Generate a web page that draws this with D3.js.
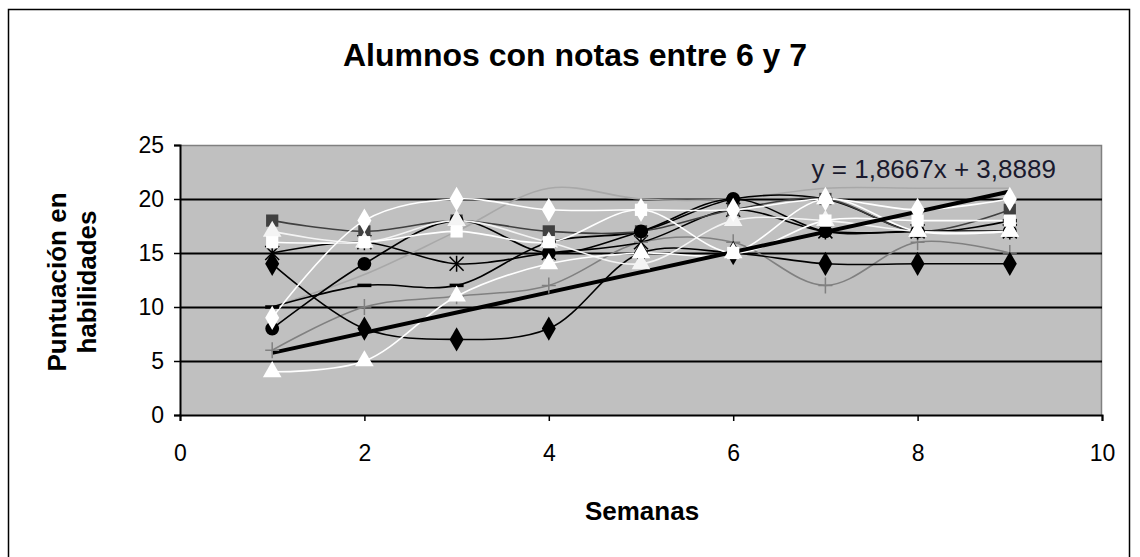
<!DOCTYPE html>
<html>
<head>
<meta charset="utf-8">
<script src="https://cdn.jsdelivr.net/npm/d3@7"></script>
<style>
  body { margin: 0; background: #fff; }
  text { font-family: Arial, "Liberation Sans", sans-serif; }
</style>
</head>
<body>
<div id="chart"></div>
<script>
// weeks and scores
var semanas = [1, 2, 3, 4, 5, 6, 7, 8, 9];
var xTicks = [0, 2, 4, 6, 8, 10];
var yTicks = [0, 5, 10, 15, 20, 25];

var serieDiamanteNegro = [14, 8, 7, 8, 15, 15, 14, 14, 14];
var serieCuadradoOscuro = [18, 17, 18, 17, 17, 19, 20, 17, 19];
var serieTrianguloBlanco = [4, 5, 11, 14, 15, 15, 20, 17, 17];
var serieDiamanteBlanco = [9, 18, 20, 19, 19, 19, 20, 19, 20];
var serieCuadradoBlanco = [16, 16, 17, 16, 19, 15, 18, 18, 18];
var serieCirculoNegro = [8, 14, 18, 15, 17, 20, 17, 17, 17];
var serieCruzGris = [6, 10, 11, 12, 16, 16, 12, 16, 15];
var serieAsterisco = [15, 16, 14, 15, 16, 19, 17, 17, 17];
var serieGrisClaro = [10, 13, 17, 21, 20, 20, 21, 21, 21];
var serieGuion = [10, 12, 12, 16, 17, 20, 20, 17, 18];
var serieTriangulo2 = [17, 16, 18, 16, 14, 18, 18, 17, 17];

// linear trend as printed on the chart
var pendiente = 1.8667, intercepto = 3.8889;
var ecuacion = "y = 1,8667x + 3,8889";

var series = [
  { v: serieGrisClaro, color: "#a8a8a8", m: "none" },
  { v: serieCruzGris, color: "#808080", m: "plus" },
  { v: serieGuion, color: "#000", m: "dash" },
  { v: serieAsterisco, color: "#000", m: "star" },
  { v: serieCuadradoOscuro, color: "#404040", m: "square" },
  { v: serieCirculoNegro, color: "#000", m: "circle" },
  { v: serieDiamanteNegro, color: "#000", m: "diamond" },
  { v: serieTriangulo2, color: "#f4f4f4", m: "triangle" },
  { v: serieCuadradoBlanco, color: "#fff", m: "square" },
  { v: serieDiamanteBlanco, color: "#fff", m: "diamond" },
  { v: serieTrianguloBlanco, color: "#fff", m: "triangle" }
];

var W = 1140, H = 557;
var margin = { top: 145, right: 38, bottom: 142, left: 180 };
var width = W - margin.left - margin.right,
    height = H - margin.top - margin.bottom;

var svg = d3.select("#chart").append("svg")
    .attr("width", W).attr("height", H);

// chart frame
svg.append("rect")
    .attr("x", 8.5).attr("y", 9.5)
    .attr("width", 1121).attr("height", 580)
    .attr("fill", "#fff").attr("stroke", "#000").attr("stroke-width", 1.5);

svg.append("text")
    .attr("x", 575).attr("y", 66)
    .attr("text-anchor", "middle")
    .attr("font-size", 32).attr("font-weight", "bold")
    .text("Alumnos con notas entre 6 y 7");

var g = svg.append("g")
    .attr("transform", "translate(" + margin.left + "," + margin.top + ")");

var x = d3.scaleLinear().domain([0, 10]).range([0, width]);
var y = d3.scaleLinear().domain([0, 25]).range([height, 0]);

g.append("rect")
    .attr("width", width).attr("height", height)
    .attr("fill", "#c0c0c0");
g.append("path")
    .attr("d", "M0,0.5H" + (width - 0.5) + "V" + height)
    .attr("fill", "none").attr("stroke", "#808080").attr("stroke-width", 1.5);

// gridlines
g.append("g")
    .attr("class", "grid")
    .call(d3.axisLeft(y).tickValues([5, 10, 15, 20]).tickSize(-width).tickFormat(""))
    .call(function (s) {
        s.select(".domain").remove();
        s.selectAll("line").attr("stroke", "#000").attr("stroke-width", 2);
    });

// axes
g.append("g")
    .call(d3.axisLeft(y).tickValues(yTicks).tickSize(6).tickPadding(10))
    .call(function (s) {
        s.select(".domain").attr("stroke-width", 2);
        s.selectAll("line").attr("stroke-width", 1.5);
        s.selectAll("text").attr("font-size", 23).attr("font-family", "Arial, 'Liberation Sans', sans-serif");
    });
g.append("g")
    .attr("transform", "translate(0," + height + ")")
    .call(d3.axisBottom(x).tickValues(xTicks).tickSize(6).tickPadding(24))
    .call(function (s) {
        s.select(".domain").attr("stroke-width", 2);
        s.selectAll("line").attr("stroke-width", 1.5);
        s.selectAll("text").attr("font-size", 23).attr("font-family", "Arial, 'Liberation Sans', sans-serif");
    });

// smoothed series lines
var line = d3.line()
    .x(function (d, i) { return x(semanas[i]); })
    .y(function (d) { return y(d); })
    .curve(d3.curveCatmullRom.alpha(0.5));

series.forEach(function (s) {
    g.append("path")
        .attr("d", line(s.v))
        .attr("fill", "none")
        .attr("stroke", s.color)
        .attr("stroke-width", 1.6);
});

// trend line
g.append("line")
    .attr("x1", x(semanas[0])).attr("y1", y(pendiente * semanas[0] + intercepto))
    .attr("x2", x(semanas[semanas.length - 1])).attr("y2", y(pendiente * semanas[semanas.length - 1] + intercepto))
    .attr("stroke", "#000").attr("stroke-width", 4);

// markers
function marcador(sel, tipo, color) {
    if (tipo === "none") return;
    if (tipo === "plus") {
        sel.append("path").attr("d", "M-7,0H7M0,-8V8")
            .attr("stroke", color).attr("stroke-width", 1.5);
    } else if (tipo === "star") {
        sel.append("path").attr("d", "M-7,-7L7,7M-7,7L7,-7M0,-8V8")
            .attr("stroke", color).attr("stroke-width", 1.5);
    } else if (tipo === "dash") {
        sel.append("path").attr("d", "M-7,0H7")
            .attr("stroke", color).attr("stroke-width", 3.5);
    } else {
        var st = { square: d3.symbolSquare, circle: d3.symbolCircle,
                   diamond: d3.symbolDiamond, triangle: d3.symbolTriangle }[tipo];
        var size = tipo === "diamond" ? 170 : 150;
        sel.append("path").attr("d", d3.symbol().type(st).size(size)())
            .attr("fill", color);
    }
}

series.forEach(function (s) {
    s.v.forEach(function (d, i) {
        var m = g.append("g")
            .attr("transform", "translate(" + x(semanas[i]) + "," + y(d) + ")");
        marcador(m, s.m, s.color);
    });
});

g.append("text")
    .attr("x", x(6.85)).attr("y", y(21.9))
    .attr("font-size", 26).attr("fill", "#1a1a2e")
    .text(ecuacion);

// axis titles
svg.append("text")
    .attr("x", 642).attr("y", 520)
    .attr("text-anchor", "middle")
    .attr("font-size", 26).attr("font-weight", "bold")
    .text("Semanas");

var yl = svg.append("text")
    .attr("transform", "translate(0,282) rotate(-90)")
    .attr("text-anchor", "middle")
    .attr("font-size", 26).attr("font-weight", "bold");
yl.append("tspan").attr("x", 0).attr("y", 66).text("Puntuación en");
yl.append("tspan").attr("x", 0).attr("y", 96).text("habilidades");
</script>
</body>
</html>
